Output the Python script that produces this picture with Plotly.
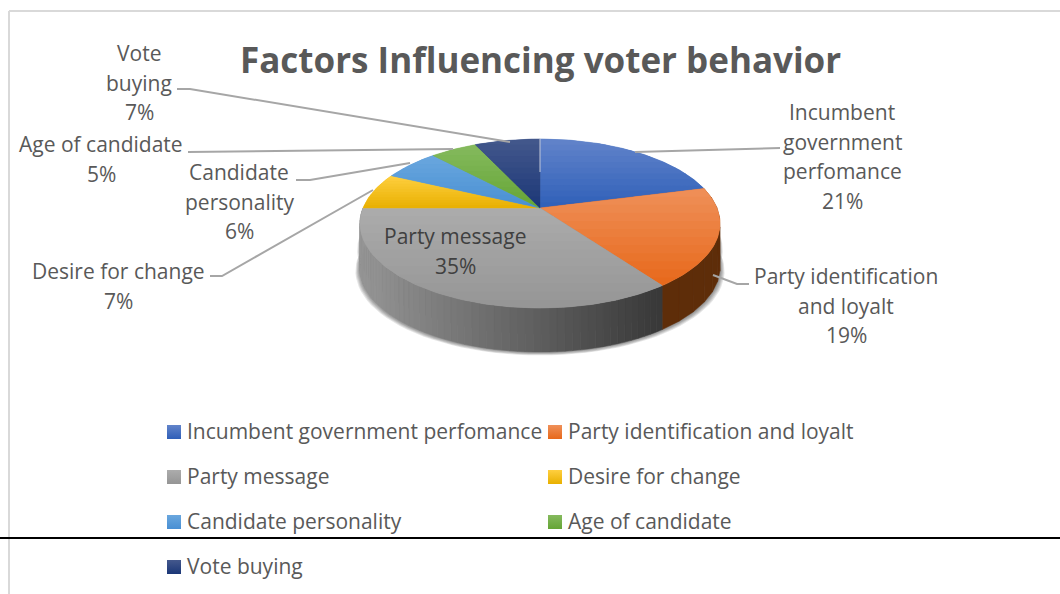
import math
import plotly.graph_objects as go

# ---- data ----
categories = ["Incumbent government perfomance", "Party identification and loyalt",
              "Party message", "Desire for change", "Candidate personality",
              "Age of candidate", "Vote buying"]
shares = [21, 19, 35, 7, 6, 5, 7]
title_text = "Factors Influencing voter behavior"
label_lines = [["Incumbent", "government", "perfomance"],
               ["Party identification", "and loyalt"],
               ["Party message"],
               ["Desire for change"],
               ["Candidate", "personality"],
               ["Age of candidate"],
               ["Vote", "buying"]]

# ---- styling / layout ----
top_cols = [("#6284ca", "#2f5fb8"), ("#ef9059", "#e7681a"), ("#acacac", "#959595"),
            ("#ffcf40", "#e8b000"), ("#6aa7de", "#488fd3"), ("#85ba5e", "#65a535"),
            ("#44588c", "#1b3777")]
FONT = "Open Sans"
TXT = "#595959"
LH = 29.5
FS = 21
label_pos = [(842, 112), (846, 276), (455, 236), (118, 271), (239, 172), (101, 144), (139, 53)]
leaders = ["M780,148 L635,152", "M749,284 L737,284 L713,275", None,
           "M210,276 L222,276 L373,190", "M296,180 L310,180 L410,163",
           "M188,152 L453,149", "M177,89 L190,89 L510,142"]
AX, AY = 540, 208      # hub of the pie on the page
A, B, K = 177.0, 81.65, 0.1834   # perspective of the tilted disc
DEPTH = 44


def rim(theta):
    u, v = math.sin(theta), math.cos(theta)
    d = 1 + K * v
    return AX + A * u / d, AY - B * v / d


def hx(c):
    return [int(c[i:i + 2], 16) for i in (1, 3, 5)]


def mix(c1, c2, t):
    a, b = hx(c1), hx(c2)
    return "rgb(%d,%d,%d)" % tuple(round(a[i] + (b[i] - a[i]) * t) for i in range(3))


def clip(poly, y0, y1):
    def half(pts, inside, cross):
        out = []
        for i, p in enumerate(pts):
            q = pts[i - 1]
            if inside(p):
                if not inside(q):
                    out.append(cross(q, p))
                out.append(p)
            elif inside(q):
                out.append(cross(q, p))
        return out

    def at(y):
        return lambda p, q: (p[0] + (q[0] - p[0]) * (y - p[1]) / (q[1] - p[1]), y)

    res = half(poly, lambda p: p[1] >= y0, at(y0))
    if res:
        res = half(res, lambda p: p[1] <= y1, at(y1))
    return res


fig = go.Figure()


def add_poly(pts, color, seam=True):
    xs = [p[0] for p in pts] + [pts[0][0]]
    ys = [p[1] for p in pts] + [pts[0][1]]
    fig.add_trace(go.Scatter(x=xs, y=ys, mode="lines", fill="toself", fillcolor=color,
                             line=dict(color=color, width=0.5 if seam else 0),
                             hoverinfo="skip", showlegend=False))


total = sum(shares)
edges = [0.0]
for s in shares:
    edges.append(edges[-1] + 2 * math.pi * s / total)

# soft shadow under the disc
outline = [rim(2 * math.pi * i / 120) for i in range(120)]
for w in (5, 4, 3, 2, 1):
    add_poly([(x + (x - AX) * w * 0.005, y + DEPTH + w * 0.7) for x, y in outline],
             "rgba(0,0,0,0.10)", seam=False)
# and a dark rim just under the top edge, on the far left and right
for w in (3, 2, 1):
    add_poly([(x + (x - AX) * w * 0.005, y + DEPTH * 0.6) for x, y in outline],
             "rgba(0,0,0,0.12)", seam=False)

# side wall, orange then grey
for idx in (1, 2):
    t0, t1 = edges[idx], edges[idx + 1]
    n = 60 if idx == 2 else 10
    for j in range(n):
        a = t0 + (t1 - t0) * j / n
        b = t0 + (t1 - t0) * (j + 1) / n
        p, q = rim(a), rim(b)
        if idx == 1:
            c = "#5e2d09"
        else:
            f = min(1, max(0, (p[0] - 365) / 295))
            c = mix("#959595", "#393939", f)
        add_poly([p, q, (q[0], q[1] + DEPTH), (p[0], p[1] + DEPTH)], c)

# top surface: every slice is shaded in horizontal bands
BANDS = 12
for i in range(len(shares)):
    t0, t1 = edges[i], edges[i + 1]
    n = max(16, int(shares[i] * 3))
    poly = [(AX, AY)] + [rim(t0 + (t1 - t0) * j / n) for j in range(n + 1)]
    add_poly(poly, mix(top_cols[i][0], top_cols[i][1], 0.5))
    ymin, ymax = min(p[1] for p in poly), max(p[1] for p in poly)
    for b in range(BANDS):
        y0 = ymin + (ymax - ymin) * b / BANDS
        y1 = ymin + (ymax - ymin) * (b + 1) / BANDS
        part = clip(poly, y0, y1 + 0.6)
        if len(part) >= 3:
            add_poly(part, mix(top_cols[i][0], top_cols[i][1], (b + 0.5) / BANDS), seam=False)

# legend rows (two columns)
for i, name in enumerate(categories):
    sx = 174 if i % 2 == 0 else 555
    sy = 432 + 45 * (i // 2)
    fig.add_trace(go.Scatter(x=[sx], y=[sy], mode="markers", hoverinfo="skip", showlegend=False,
                             marker=dict(symbol="square", size=14, color=top_cols[i][0],
                                         line=dict(width=0),
                                         gradient=dict(type="vertical", color=top_cols[i][1]))))
    fig.add_annotation(x=sx + 11, y=sy - 1, text=name, showarrow=False, xanchor="left",
                       yanchor="middle", font=dict(family=FONT, size=FS, color=TXT))

# data labels
for i, lines in enumerate(label_lines):
    cx, cy = label_pos[i]
    col = "#404040" if i == 2 else TXT
    for j, t in enumerate(lines + [f"{shares[i]}%"]):
        fig.add_annotation(x=cx, y=cy + j * LH, text=t, showarrow=False, xanchor="center",
                           yanchor="middle", font=dict(family=FONT, size=FS, color=col))

fig.add_annotation(x=540, y=59, text=f"<b>{title_text}</b>", showarrow=False, xanchor="center",
                   yanchor="middle", font=dict(family=FONT, size=35, color=TXT))

shapes = [dict(type="path", path=p, line=dict(color="#a6a6a6", width=2), layer="above")
          for p in leaders if p]
shapes += [
    dict(type="line", x0=9, x1=1060, y0=11, y1=11, line=dict(color="#d9d9d9", width=2)),
    dict(type="line", x0=9, x1=9, y0=11, y1=594, line=dict(color="#d9d9d9", width=2)),
    dict(type="line", x0=0, x1=1060, y0=538, y1=538, line=dict(color="#000000", width=2), layer="above"),
    dict(type="line", x0=540, x1=540, y0=139, y1=172, line=dict(color="rgba(255,255,255,0.7)", width=1), layer="above"),
]

fig.update_layout(width=1060, height=594, margin=dict(l=0, r=0, t=0, b=0),
                  paper_bgcolor="white", plot_bgcolor="white", shapes=shapes,
                  xaxis=dict(range=[0, 1060], visible=False, fixedrange=True),
                  yaxis=dict(range=[594, 0], visible=False, fixedrange=True))
fig.write_html("out.html", config={"displayModeBar": False},
               post_script="document.body.style.margin='0';document.body.style.overflow='hidden';")
